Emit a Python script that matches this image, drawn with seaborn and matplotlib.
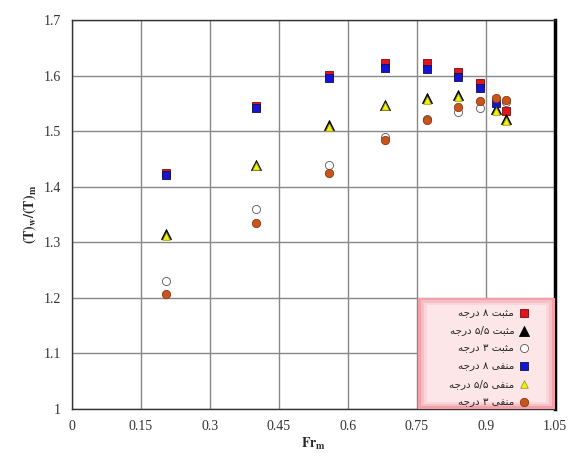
import matplotlib
matplotlib.use("Agg")
import matplotlib.pyplot as plt
import seaborn as sns
import pandas as pd
from matplotlib.font_manager import FontProperties
from matplotlib.patches import Rectangle

# data (Fr_m, (T)w/(T)m)
pos8_x = [0.204, 0.401, 0.559, 0.680, 0.771, 0.840, 0.888, 0.943]
pos8_y = [1.424, 1.546, 1.601, 1.623, 1.622, 1.607, 1.587, 1.536]

pos55_x = [0.204, 0.401, 0.559, 0.680, 0.771, 0.840, 0.922, 0.943]
pos55_y = [1.314, 1.440, 1.511, 1.548, 1.560, 1.565, 1.540, 1.522]

pos3_x = [0.204, 0.401, 0.559, 0.680, 0.771, 0.840, 0.888, 0.943]
pos3_y = [1.230, 1.360, 1.440, 1.490, 1.522, 1.535, 1.541, 1.552]

neg8_x = [0.204, 0.401, 0.559, 0.680, 0.771, 0.840, 0.888, 0.922]
neg8_y = [1.421, 1.542, 1.595, 1.613, 1.612, 1.597, 1.577, 1.550]

neg55_x = [0.204, 0.401, 0.559, 0.680, 0.771, 0.840, 0.922, 0.943]
neg55_y = [1.311, 1.437, 1.508, 1.545, 1.557, 1.562, 1.537, 1.518]

neg3_x = [0.204, 0.401, 0.559, 0.680, 0.771, 0.840, 0.888, 0.922, 0.943]
neg3_y = [1.207, 1.335, 1.424, 1.484, 1.521, 1.544, 1.555, 1.559, 1.556]

x_ticks = [0, 0.15, 0.3, 0.45, 0.6, 0.75, 0.9, 1.05]
x_tick_labels = ["0", "0.15", "0.3", "0.45", "0.6", "0.75", "0.9", "1.05"]
y_ticks = [1, 1.1, 1.2, 1.3, 1.4, 1.5, 1.6, 1.7]
y_tick_labels = ["1", "1.1", "1.2", "1.3", "1.4", "1.5", "1.6", "1.7"]

# persian words in presentation forms, in the visual order of the reference
mosbat = "\uFE96\uFE92\uFE9C\uFEE3"
manfi = "\uFEF0\uFED4\uFEE8\uFEE3"
daraje = "\uFEEA\uFE9F\uFEAD\uFEA9"
labels = [
    daraje + " \u06F8 " + mosbat,
    daraje + " \u06F5/\u06F5 " + mosbat,
    daraje + " \u06F3 " + mosbat,
    daraje + " \u06F8 " + manfi,
    daraje + " \u06F5/\u06F5 " + manfi,
    daraje + " \u06F3 " + manfi,
]

sns.set_style("white")
plt.rcParams["font.family"] = ["Liberation Serif", "DejaVu Serif"]
plt.rcParams["mathtext.fontset"] = "stix"

fig = plt.figure(figsize=(5.71, 4.61), dpi=100)
ax = fig.add_axes([0.126, 0.1134, 0.846, 0.8428])

series = [
    (pos8_x, pos8_y, "s", "#e3141c", "#7a0a0a", 34, labels[0]),
    (pos55_x, pos55_y, "^", "black", "black", 52, labels[1]),
    (pos3_x, pos3_y, "o", "white", "#555555", 34, labels[2]),
    (neg8_x, neg8_y, "s", "#1414d8", "#10104a", 34, labels[3]),
    (neg55_x, neg55_y, "^", "#f2f20a", "#9a9a20", 30, labels[4]),
    (neg3_x, neg3_y, "o", "#c9541c", "#8a3a14", 36, labels[5]),
]

for xs, ys, mk, fc, ec, size, lab in series:
    df = pd.DataFrame({"Fr": xs, "T": ys})
    sns.scatterplot(data=df, x="Fr", y="T", marker=mk, color=fc, edgecolor=ec,
                    linewidth=0.6, s=size, label=lab, ax=ax, zorder=3)

ax.set_xlim(0, 1.05)
ax.set_ylim(1, 1.7)
ax.set_xticks(x_ticks)
ax.set_xticklabels(x_tick_labels)
ax.set_yticks(y_ticks)
ax.set_yticklabels(y_tick_labels)
ax.tick_params(length=0, labelsize=10, pad=8, colors="#333333")
ax.grid(True, color="#888888", linewidth=1)
ax.set_axisbelow(True)

for side in ["left", "bottom", "top"]:
    ax.spines[side].set_color("#333333")
    ax.spines[side].set_linewidth(1)
ax.spines["right"].set_color("black")
ax.spines["right"].set_linewidth(2.5)

ax.set_xlabel(r"$\mathbf{Fr_m}$", fontsize=10, labelpad=2)
ax.set_ylabel(r"$\mathbf{(T)_w/(T)_m}$", fontsize=10, labelpad=4)

# pink legend box with a reddish glow at the edge
glow = ["#f4a0aa", "#f8c0c6", "#fad6da", "#fce6e8"]
for i, c in enumerate(glow):
    d = i * 0.006
    ax.add_patch(Rectangle((0.716 + d, 0.0 + d), 0.284 - 2 * d, 0.285 - 2 * d,
                           transform=ax.transAxes, facecolor=c,
                           edgecolor="none", zorder=4))

leg = ax.legend(loc="lower right", bbox_to_anchor=(0.95, 0.0),
                markerfirst=False, borderaxespad=0,
                prop=FontProperties(family="DejaVu Sans", size=7.5),
                frameon=False, handletextpad=0.4,
                labelspacing=0.75, borderpad=0.2, handlelength=1.0)
leg.set_zorder(5)

fig.savefig("out.png", dpi=100)
